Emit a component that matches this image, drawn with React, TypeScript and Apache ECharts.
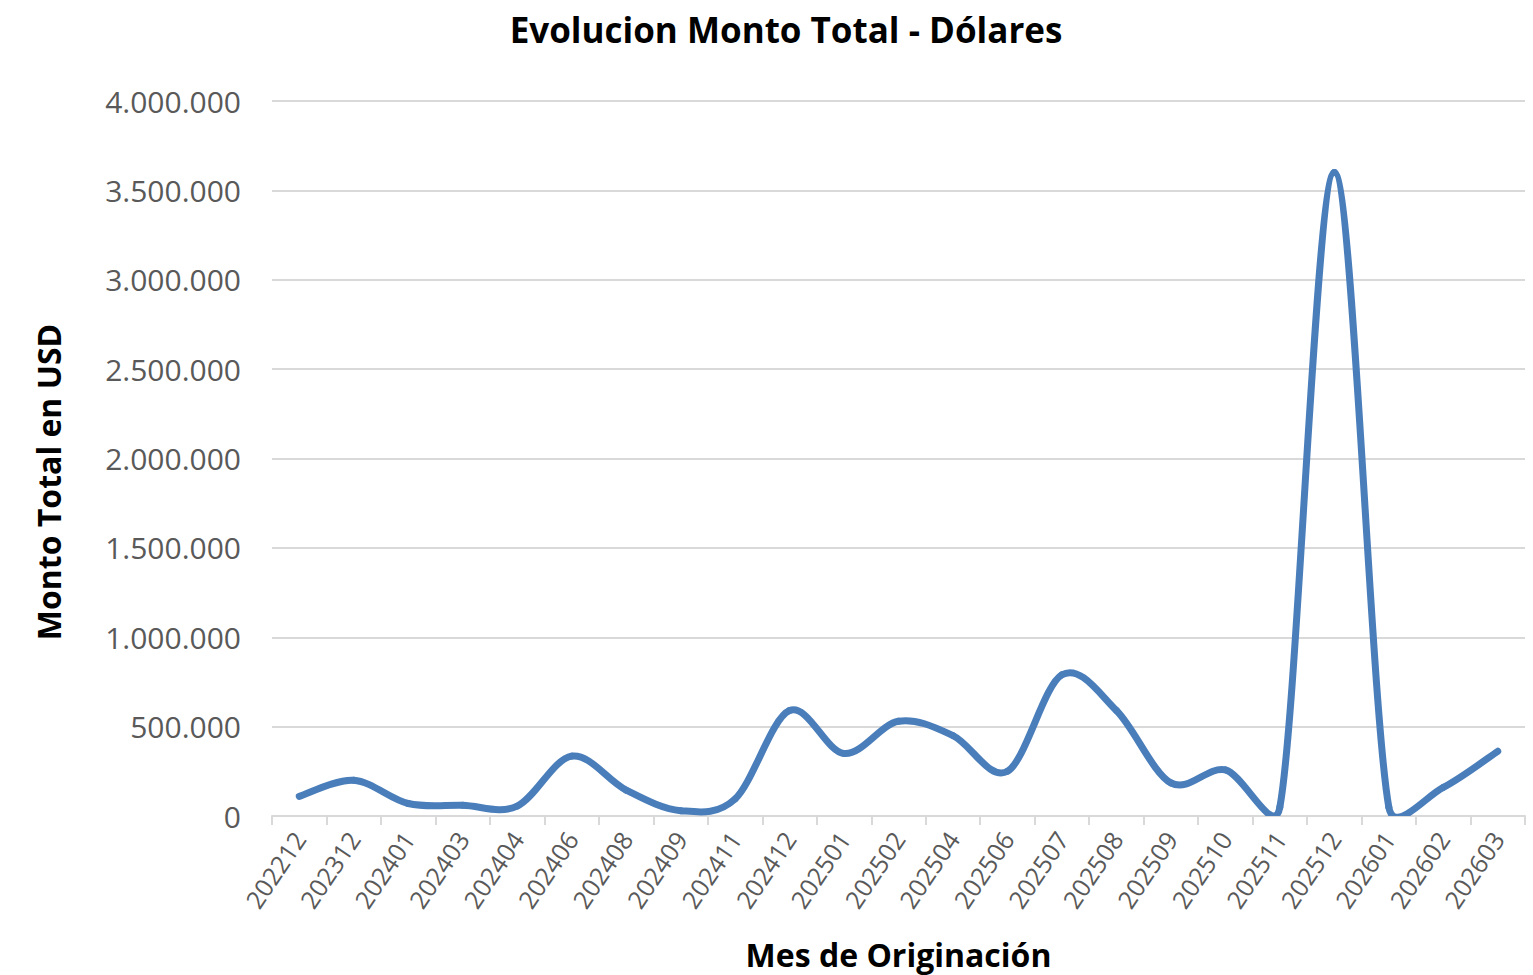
import React, { useEffect, useRef } from "react";
import * as echarts from "echarts";

const categories = [
  "202212", "202312", "202401", "202403", "202404", "202406", "202408", "202409",
  "202411", "202412", "202501", "202502", "202504", "202506", "202507", "202508",
  "202509", "202510", "202511", "202512", "202601", "202602", "202603",
];
const montoUSD = [
  110000, 200000, 70000, 60000, 55000, 335000, 145000, 30000,
  95000, 590000, 350000, 530000, 450000, 250000, 790000, 590000,
  185000, 258000, 50000, 3600000, 50000, 160000, 362000,
];
const yTicks = { min: 0, max: 4000000, interval: 500000 };

const fmt = (v: number) => String(Math.round(v)).replace(/\B(?=(\d{3})+(?!\d))/g, ".");

// Excel-style smoothed segment between data points i and i+1, in pixel space from the axes.
function segment(params: any, api: any) {
  const i = params.dataIndex;
  const n = montoUSD.length;
  if (i >= n - 1) return null;
  const pt = (k: number) => {
    const kk = Math.max(0, Math.min(n - 1, k));
    return api.coord([kk, montoUSD[kk]]);
  };
  const p0 = pt(i - 1), p1 = pt(i), p2 = pt(i + 1), p3 = pt(i + 2);
  const d = (a: number[], b: number[]) => Math.hypot(a[0] - b[0], a[1] - b[1]);
  const d12 = d(p1, p2);
  const d02 = d(p0, p2) || 1;
  const d13 = d(p1, p3) || 1;
  const f1 = Math.min(d02 / 6, d12 / 2) / d02;
  const f2 = Math.min(d13 / 6, d12 / 2) / d13;
  const c1 = [p1[0] + (p2[0] - p0[0]) * f1, p1[1] + (p2[1] - p0[1]) * f1];
  const c2 = [p2[0] - (p3[0] - p1[0]) * f2, p2[1] - (p3[1] - p1[1]) * f2];
  return {
    type: "bezierCurve",
    shape: {
      x1: p1[0], y1: p1[1], x2: p2[0], y2: p2[1],
      cpx1: c1[0], cpy1: c1[1], cpx2: c2[0], cpy2: c2[1],
    },
    style: { stroke: "#4a7ebb", lineWidth: 7, fill: "none", lineCap: "round", lineJoin: "round" },
  };
}

export default function App() {
  const ref = useRef<HTMLDivElement>(null);
  useEffect(() => {
    document.body.style.margin = "0";
    const chart = echarts.init(ref.current!, null, { renderer: "svg" });
    chart.setOption({
      animation: false,
      backgroundColor: "#ffffff",
      title: {
        text: "Evolucion Monto Total - Dólares",
        left: 781,
        textAlign: "center",
        top: 7,
        textStyle: { fontFamily: "Open Sans", fontWeight: "bold", fontSize: 35, color: "#000" },
      },
      grid: { left: 272, right: 8, top: 101, bottom: 159, outerBoundsMode: "none", containLabel: false },
      graphic: [
        {
          type: "text",
          x: 48,
          y: 482,
          rotation: Math.PI / 2,
          style: {
            text: "Monto Total en USD",
            fontFamily: "Open Sans",
            fontWeight: "bold",
            fontSize: 32,
            fill: "#000",
            align: "center",
            verticalAlign: "middle",
          },
        },
      ],
      xAxis: {
        type: "category",
        data: categories,
        boundaryGap: true,
        name: "Mes de Originación",
        nameLocation: "middle",
        nameGap: 122,
        nameTextStyle: { fontFamily: "Open Sans", fontWeight: "bold", fontSize: 32, color: "#000" },
        axisLine: { lineStyle: { color: "#d9d9d9", width: 2 } },
        axisTick: { show: true, length: 9, lineStyle: { color: "#d9d9d9", width: 2 } },
        axisLabel: {
          rotate: 56,
          interval: 0,
          margin: 18,
          fontFamily: "Open Sans",
          fontSize: 25,
          color: "#595959",
        },
      },
      yAxis: {
        type: "value",
        min: yTicks.min,
        max: yTicks.max,
        interval: yTicks.interval,
        axisLine: { show: false },
        axisTick: { show: false },
        splitLine: { lineStyle: { color: "#d9d9d9", width: 2 } },
        axisLabel: {
          formatter: fmt,
          margin: 31,
          fontFamily: "Open Sans",
          fontSize: 30,
          color: "#595959",
        },
      },
      series: [
        {
          type: "custom",
          clip: true,
          data: categories.map((c, i) => [i, montoUSD[i]]),
          encode: { x: 0, y: 1 },
          renderItem: segment,
        },
      ],
    });
    return () => chart.dispose();
  }, []);
  return <div ref={ref} style={{ width: 1533, height: 975 }} />;
}
